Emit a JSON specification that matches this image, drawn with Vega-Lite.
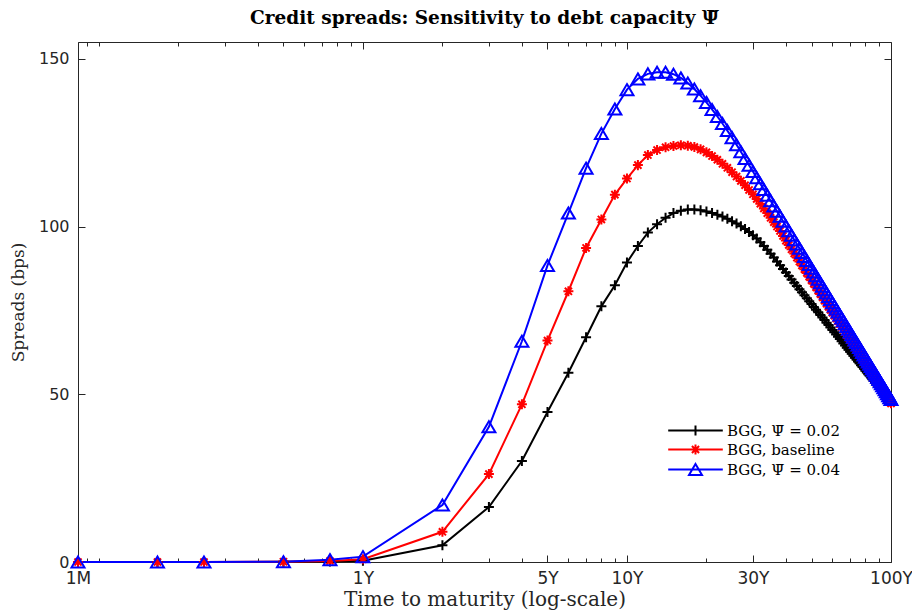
{
 "$schema": "https://vega.github.io/schema/vega-lite/v6.json",
 "width": 813, "height": 520,
 "autosize": {"type": "none"},
 "padding": {"left": 78, "top": 42, "right": 21, "bottom": 51},
 "background": "white",
 "config": {
  "view": {"stroke": "#262626", "strokeWidth": 1},
  "axis": {"domain": false, "grid": false, "tickColor": "#262626", "tickWidth": 1, "labelFont": "DejaVu Sans", "labelFontSize": 16, "labelColor": "#262626", "titleFont": "DejaVu Serif", "titleFontSize": 20, "titleFontWeight": "normal", "titleColor": "#262626"}
 },
 "title": {"text": "Credit spreads: Sensitivity to debt capacity \u03a8\u0304", "font": "DejaVu Serif", "fontSize": 18.5, "fontWeight": "bold", "color": "#000000", "anchor": "middle", "frame": "group", "offset": 14},
 "data": {"values": [
{"m":0.0833333,"s":"low","v":0},{"m":0.1666667,"s":"low","v":0},{"m":0.25,"s":"low","v":0},{"m":0.5,"s":"low","v":0.05},{"m":0.75,"s":"low","v":0.15},{"m":1,"s":"low","v":0.4},
{"m":2,"s":"low","v":5.0},{"m":3,"s":"low","v":16.4},{"m":4,"s":"low","v":30.1},{"m":5,"s":"low","v":44.7},{"m":6,"s":"low","v":56.4},{"m":7,"s":"low","v":67.0},{"m":8,"s":"low","v":76.2},{"m":9,"s":"low","v":82.5},{"m":10,"s":"low","v":89.3},
{"m":11,"s":"low","v":94.2},{"m":12,"s":"low","v":98.2},{"m":13,"s":"low","v":100.7},{"m":14,"s":"low","v":102.6},{"m":15,"s":"low","v":104.0},{"m":16,"s":"low","v":104.7},{"m":17,"s":"low","v":105.05},{"m":18,"s":"low","v":105.05},{"m":19,"s":"low","v":104.85},{"m":20,"s":"low","v":104.5},
{"m":21,"s":"low","v":104.0},{"m":22,"s":"low","v":103.5},{"m":23,"s":"low","v":102.95},{"m":24,"s":"low","v":102.3},{"m":25,"s":"low","v":101.6},{"m":26,"s":"low","v":100.9},{"m":27,"s":"low","v":100.1},{"m":28,"s":"low","v":99.25},{"m":29,"s":"low","v":98.35},{"m":30,"s":"low","v":97.4},
{"m":31,"s":"low","v":96.4},{"m":32,"s":"low","v":95.3},{"m":33,"s":"low","v":94.2},{"m":34,"s":"low","v":93.05},{"m":35,"s":"low","v":91.9},{"m":36,"s":"low","v":90.75},{"m":37,"s":"low","v":89.6},{"m":38,"s":"low","v":88.45},{"m":39,"s":"low","v":87.35},{"m":40,"s":"low","v":86.3},
{"m":41,"s":"low","v":85.26},{"m":42,"s":"low","v":84.24},{"m":43,"s":"low","v":83.25},{"m":44,"s":"low","v":82.28},{"m":45,"s":"low","v":81.33},{"m":46,"s":"low","v":80.40},{"m":47,"s":"low","v":79.49},{"m":48,"s":"low","v":78.60},{"m":49,"s":"low","v":77.73},{"m":50,"s":"low","v":76.88},
{"m":51,"s":"low","v":76.04},{"m":52,"s":"low","v":75.22},{"m":53,"s":"low","v":74.42},{"m":54,"s":"low","v":73.63},{"m":55,"s":"low","v":72.86},{"m":56,"s":"low","v":72.10},{"m":57,"s":"low","v":71.35},{"m":58,"s":"low","v":70.61},{"m":59,"s":"low","v":69.89},{"m":60,"s":"low","v":69.18},
{"m":61,"s":"low","v":68.49},{"m":62,"s":"low","v":67.80},{"m":63,"s":"low","v":67.12},{"m":64,"s":"low","v":66.46},{"m":65,"s":"low","v":65.81},{"m":66,"s":"low","v":65.16},{"m":67,"s":"low","v":64.53},{"m":68,"s":"low","v":63.90},{"m":69,"s":"low","v":63.28},{"m":70,"s":"low","v":62.68},
{"m":71,"s":"low","v":62.08},{"m":72,"s":"low","v":61.49},{"m":73,"s":"low","v":60.91},{"m":74,"s":"low","v":60.33},{"m":75,"s":"low","v":59.76},{"m":76,"s":"low","v":59.21},{"m":77,"s":"low","v":58.65},{"m":78,"s":"low","v":58.11},{"m":79,"s":"low","v":57.57},{"m":80,"s":"low","v":57.04},
{"m":81,"s":"low","v":56.52},{"m":82,"s":"low","v":56.00},{"m":83,"s":"low","v":55.49},{"m":84,"s":"low","v":54.98},{"m":85,"s":"low","v":54.48},{"m":86,"s":"low","v":53.99},{"m":87,"s":"low","v":53.50},{"m":88,"s":"low","v":53.02},{"m":89,"s":"low","v":52.54},{"m":90,"s":"low","v":52.07},
{"m":91,"s":"low","v":51.60},{"m":92,"s":"low","v":51.14},{"m":93,"s":"low","v":50.68},{"m":94,"s":"low","v":50.23},{"m":95,"s":"low","v":49.79},{"m":96,"s":"low","v":49.34},{"m":97,"s":"low","v":48.91},{"m":98,"s":"low","v":48.47},{"m":99,"s":"low","v":48.04},{"m":100,"s":"low","v":47.62},
{"m":0.0833333,"s":"base","v":0},{"m":0.1666667,"s":"base","v":0},{"m":0.25,"s":"base","v":0},{"m":0.5,"s":"base","v":0.1},{"m":0.75,"s":"base","v":0.3},{"m":1,"s":"base","v":0.8},
{"m":2,"s":"base","v":9.0},{"m":3,"s":"base","v":26.2},{"m":4,"s":"base","v":47.0},{"m":5,"s":"base","v":66.0},{"m":6,"s":"base","v":80.7},{"m":7,"s":"base","v":93.6},{"m":8,"s":"base","v":102.1},{"m":9,"s":"base","v":109.5},{"m":10,"s":"base","v":114.3},
{"m":11,"s":"base","v":118.3},{"m":12,"s":"base","v":121.3},{"m":13,"s":"base","v":122.8},{"m":14,"s":"base","v":123.6},{"m":15,"s":"base","v":124.0},{"m":16,"s":"base","v":124.2},{"m":17,"s":"base","v":124.1},{"m":18,"s":"base","v":123.7},{"m":19,"s":"base","v":123.0},{"m":20,"s":"base","v":122.1},
{"m":21,"s":"base","v":121.0},{"m":22,"s":"base","v":119.9},{"m":23,"s":"base","v":118.7},{"m":24,"s":"base","v":117.5},{"m":25,"s":"base","v":116.2},{"m":26,"s":"base","v":114.9},{"m":27,"s":"base","v":113.6},{"m":28,"s":"base","v":112.3},{"m":29,"s":"base","v":110.9},{"m":30,"s":"base","v":109.6},
{"m":31,"s":"base","v":108.2},{"m":32,"s":"base","v":106.8},{"m":33,"s":"base","v":105.4},{"m":34,"s":"base","v":104.0},{"m":35,"s":"base","v":102.6},{"m":36,"s":"base","v":101.3},{"m":37,"s":"base","v":100.0},{"m":38,"s":"base","v":98.7},{"m":39,"s":"base","v":97.2},{"m":40,"s":"base","v":95.8},
{"m":41,"s":"base","v":94.49},{"m":42,"s":"base","v":93.22},{"m":43,"s":"base","v":91.97},{"m":44,"s":"base","v":90.75},{"m":45,"s":"base","v":89.56},{"m":46,"s":"base","v":88.40},{"m":47,"s":"base","v":87.26},{"m":48,"s":"base","v":86.15},{"m":49,"s":"base","v":85.06},{"m":50,"s":"base","v":83.99},
{"m":51,"s":"base","v":82.94},{"m":52,"s":"base","v":81.91},{"m":53,"s":"base","v":80.90},{"m":54,"s":"base","v":79.91},{"m":55,"s":"base","v":78.94},{"m":56,"s":"base","v":77.99},{"m":57,"s":"base","v":77.05},{"m":58,"s":"base","v":76.13},{"m":59,"s":"base","v":75.22},{"m":60,"s":"base","v":74.33},
{"m":61,"s":"base","v":73.46},{"m":62,"s":"base","v":72.60},{"m":63,"s":"base","v":71.75},{"m":64,"s":"base","v":70.92},{"m":65,"s":"base","v":70.10},{"m":66,"s":"base","v":69.29},{"m":67,"s":"base","v":68.49},{"m":68,"s":"base","v":67.71},{"m":69,"s":"base","v":66.94},{"m":70,"s":"base","v":66.17},
{"m":71,"s":"base","v":65.42},{"m":72,"s":"base","v":64.68},{"m":73,"s":"base","v":63.95},{"m":74,"s":"base","v":63.23},{"m":75,"s":"base","v":62.52},{"m":76,"s":"base","v":61.82},{"m":77,"s":"base","v":61.13},{"m":78,"s":"base","v":60.45},{"m":79,"s":"base","v":59.77},{"m":80,"s":"base","v":59.10},
{"m":81,"s":"base","v":58.45},{"m":82,"s":"base","v":57.80},{"m":83,"s":"base","v":57.16},{"m":84,"s":"base","v":56.52},{"m":85,"s":"base","v":55.89},{"m":86,"s":"base","v":55.28},{"m":87,"s":"base","v":54.66},{"m":88,"s":"base","v":54.06},{"m":89,"s":"base","v":53.46},{"m":90,"s":"base","v":52.87},
{"m":91,"s":"base","v":52.28},{"m":92,"s":"base","v":51.71},{"m":93,"s":"base","v":51.13},{"m":94,"s":"base","v":50.57},{"m":95,"s":"base","v":50.01},{"m":96,"s":"base","v":49.45},{"m":97,"s":"base","v":48.90},{"m":98,"s":"base","v":48.36},{"m":99,"s":"base","v":47.82},{"m":100,"s":"base","v":47.29},
{"m":0.0833333,"s":"high","v":0},{"m":0.1666667,"s":"high","v":0},{"m":0.25,"s":"high","v":0},{"m":0.5,"s":"high","v":0.1},{"m":0.75,"s":"high","v":0.7},{"m":1,"s":"high","v":1.6},
{"m":2,"s":"high","v":17.0},{"m":3,"s":"high","v":40.3},{"m":4,"s":"high","v":65.8},{"m":5,"s":"high","v":88.4},{"m":6,"s":"high","v":104.0},{"m":7,"s":"high","v":117.4},{"m":8,"s":"high","v":127.7},{"m":9,"s":"high","v":135.0},{"m":10,"s":"high","v":140.8},
{"m":11,"s":"high","v":144.0},{"m":12,"s":"high","v":145.5},{"m":13,"s":"high","v":146.0},{"m":14,"s":"high","v":146.0},{"m":15,"s":"high","v":145.4},{"m":16,"s":"high","v":144.3},{"m":17,"s":"high","v":142.8},{"m":18,"s":"high","v":141.0},{"m":19,"s":"high","v":139.0},{"m":20,"s":"high","v":137.0},
{"m":21,"s":"high","v":134.9},{"m":22,"s":"high","v":132.8},{"m":23,"s":"high","v":130.7},{"m":24,"s":"high","v":128.6},{"m":25,"s":"high","v":126.5},{"m":26,"s":"high","v":124.4},{"m":27,"s":"high","v":122.3},{"m":28,"s":"high","v":120.3},{"m":29,"s":"high","v":118.3},{"m":30,"s":"high","v":116.4},
{"m":31,"s":"high","v":114.55},{"m":32,"s":"high","v":112.76},{"m":33,"s":"high","v":111.02},{"m":34,"s":"high","v":109.33},{"m":35,"s":"high","v":107.70},{"m":36,"s":"high","v":106.11},{"m":37,"s":"high","v":104.56},{"m":38,"s":"high","v":103.05},{"m":39,"s":"high","v":101.59},{"m":40,"s":"high","v":100.16},
{"m":41,"s":"high","v":98.76},{"m":42,"s":"high","v":97.40},{"m":43,"s":"high","v":96.07},{"m":44,"s":"high","v":94.78},{"m":45,"s":"high","v":93.51},{"m":46,"s":"high","v":92.27},{"m":47,"s":"high","v":91.05},{"m":48,"s":"high","v":89.86},{"m":49,"s":"high","v":88.70},{"m":50,"s":"high","v":87.56},
{"m":51,"s":"high","v":86.44},{"m":52,"s":"high","v":85.35},{"m":53,"s":"high","v":84.27},{"m":54,"s":"high","v":83.21},{"m":55,"s":"high","v":82.18},{"m":56,"s":"high","v":81.16},{"m":57,"s":"high","v":80.16},{"m":58,"s":"high","v":79.18},{"m":59,"s":"high","v":78.22},{"m":60,"s":"high","v":77.27},
{"m":61,"s":"high","v":76.33},{"m":62,"s":"high","v":75.41},{"m":63,"s":"high","v":74.51},{"m":64,"s":"high","v":73.62},{"m":65,"s":"high","v":72.75},{"m":66,"s":"high","v":71.89},{"m":67,"s":"high","v":71.04},{"m":68,"s":"high","v":70.20},{"m":69,"s":"high","v":69.38},{"m":70,"s":"high","v":68.56},
{"m":71,"s":"high","v":67.76},{"m":72,"s":"high","v":66.97},{"m":73,"s":"high","v":66.19},{"m":74,"s":"high","v":65.43},{"m":75,"s":"high","v":64.67},{"m":76,"s":"high","v":63.92},{"m":77,"s":"high","v":63.18},{"m":78,"s":"high","v":62.45},{"m":79,"s":"high","v":61.73},{"m":80,"s":"high","v":61.02},
{"m":81,"s":"high","v":60.32},{"m":82,"s":"high","v":59.63},{"m":83,"s":"high","v":58.95},{"m":84,"s":"high","v":58.27},{"m":85,"s":"high","v":57.60},{"m":86,"s":"high","v":56.94},{"m":87,"s":"high","v":56.29},{"m":88,"s":"high","v":55.64},{"m":89,"s":"high","v":55.00},{"m":90,"s":"high","v":54.37},
{"m":91,"s":"high","v":53.75},{"m":92,"s":"high","v":53.13},{"m":93,"s":"high","v":52.52},{"m":94,"s":"high","v":51.92},{"m":95,"s":"high","v":51.32},{"m":96,"s":"high","v":50.73},{"m":97,"s":"high","v":50.15},{"m":98,"s":"high","v":49.57},{"m":99,"s":"high","v":48.99},{"m":100,"s":"high","v":48.43}
 ]},
 "layer": [
  {"mark": {"type": "line", "strokeWidth": 2},
   "encoding": {
    "x": {"field": "m", "type": "quantitative", "scale": {"type": "log", "domain": [0.0833333, 100], "nice": false},
      "axis": {"orient": "bottom", "values": [0.0833333, 1, 5, 10, 30, 100], "labelExpr": "datum.value < 0.5 ? '1M' : datum.value + 'Y'", "labelFlush": false, "labelOverlap": false, "tickSize": -7, "labelPadding": 15, "labelFontSize": 17, "title": "Time to maturity (log-scale)", "titlePadding": 3}},
    "y": {"field": "v", "type": "quantitative", "scale": {"domain": [0, 155], "nice": false},
      "axis": {"orient": "left", "values": [0, 50, 100, 150], "tickSize": -7, "labelPadding": 16, "title": "Spreads (bps)", "titleFontSize": 17, "titlePadding": 11}},
    "color": {"field": "s", "type": "nominal", "scale": {"domain": ["low", "base", "high"], "range": ["#000000", "#ff0000", "#0000ff"]},
      "legend": {"orient": "none", "legendX": 610, "legendY": 381, "title": null, "padding": 0, "labelFont": "DejaVu Serif", "labelFontSize": 15, "labelColor": "#000000", "labelOffset": 24, "symbolSize": 169, "symbolStrokeWidth": 2, "rowPadding": 0,
        "labelExpr": "datum.value === 'low' ? 'BGG, \u03a8\u0304 = 0.02' : datum.value === 'base' ? 'BGG, baseline' : 'BGG, \u03a8\u0304 = 0.04'",
        "encode": {"symbols": {"update": {
          "shape": {"signal": "datum.value === 'low' ? 'M-4.2,0L4.2,0M-0.77,0L0.77,0M0,-0.77L0,0.77' : datum.value === 'base' ? 'M-4.2,0L4.2,0M0,-0.77L0,0.77M-0.55,-0.55L0.55,0.55M-0.55,0.55L0.55,-0.55' : 'M-4.2,0L4.2,0M0,-0.85L1,0.85L-1,0.85Z'"},
          "fill": {"value": "transparent"},
          "strokeWidth": {"value": 2}}}}}}
   }},
  {"mark": {"type": "point", "filled": false, "size": 169, "strokeWidth": 2, "opacity": 1},
   "encoding": {
    "x": {"field": "m", "type": "quantitative", "scale": {"type": "log", "domain": [0.0833333, 100], "nice": false},
      "axis": {"orient": "bottom", "values": [0.09, 0.1, 0.2, 0.3, 0.4, 0.5, 0.6, 0.7, 0.8, 0.9, 2, 3, 4, 6, 7, 8, 9, 20, 40, 50, 60, 70, 80, 90], "labels": false, "tickSize": -4, "title": null}},
    "y": {"field": "v", "type": "quantitative", "scale": {"domain": [0, 155], "nice": false},
      "axis": {"orient": "right", "values": [0, 50, 100, 150], "labels": false, "tickSize": -7, "title": null}},
    "stroke": {"field": "s", "type": "nominal", "scale": {"domain": ["base", "high", "low"], "range": ["#ff0000", "#0000ff", "#000000"]}, "legend": null},
    "shape": {"field": "s", "type": "nominal", "scale": {"domain": ["high", "low", "base"], "range": ["M0,-0.85L1,0.85L-1,0.85Z", "M-0.77,0L0.77,0M0,-0.77L0,0.77", "M-0.77,0L0.77,0M0,-0.77L0,0.77M-0.55,-0.55L0.55,0.55M-0.55,0.55L0.55,-0.55"]}, "legend": null}
   }},
  {"transform": [{"filter": "false"}],
   "mark": "point",
   "encoding": {
    "x": {"field": "m", "type": "quantitative", "scale": {"type": "log", "domain": [0.0833333, 100], "nice": false},
      "axis": {"orient": "top", "values": [0.0833333, 1, 5, 10, 30, 100], "labels": false, "tickSize": -7, "title": null}},
    "y": {"field": "v", "type": "quantitative", "axis": null}
   }},
  {"transform": [{"filter": "false"}],
   "mark": "point",
   "encoding": {
    "x": {"field": "m", "type": "quantitative", "scale": {"type": "log", "domain": [0.0833333, 100], "nice": false},
      "axis": {"orient": "top", "values": [0.09, 0.1, 0.2, 0.3, 0.4, 0.5, 0.6, 0.7, 0.8, 0.9, 2, 3, 4, 6, 7, 8, 9, 20, 40, 50, 60, 70, 80, 90], "labels": false, "tickSize": -4, "title": null}},
    "y": {"field": "v", "type": "quantitative", "axis": null}
   }}
 ],
 "resolve": {"axis": {"x": "independent", "y": "independent"}}
}
